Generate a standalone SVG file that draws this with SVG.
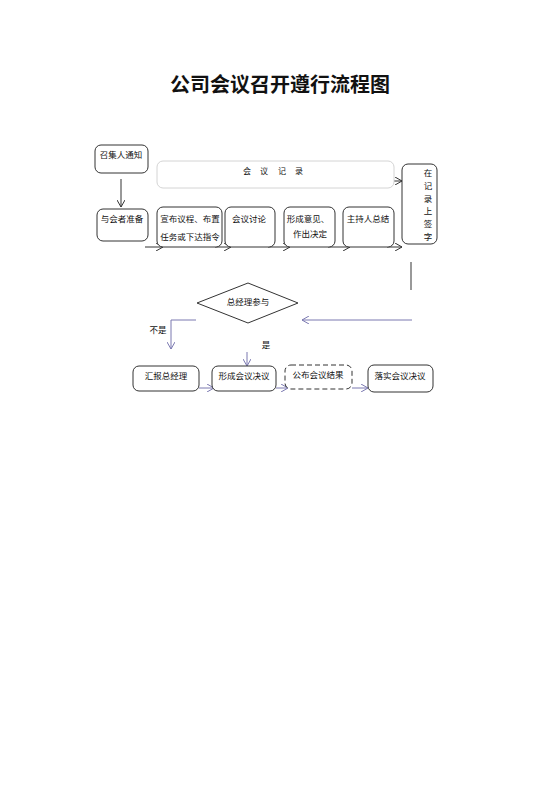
<svg xmlns="http://www.w3.org/2000/svg" width="560" height="792" viewBox="0 0 560 792">
<defs>
<style>
text{font-family:"Liberation Sans","Noto Sans CJK SC",sans-serif;font-size:8.5px;fill:#111;text-anchor:middle;dominant-baseline:central}
.box{fill:#fff;stroke:#333;stroke-width:1}
.ln{fill:none;stroke:#333;stroke-width:1}
.pl{fill:none;stroke:#7a78b0;stroke-width:1}
</style>
<marker id="ak" markerWidth="8" markerHeight="8" refX="7" refY="4" orient="auto" markerUnits="userSpaceOnUse"><path d="M0,0 L7,4 L0,8" fill="none" stroke="#333" stroke-width="1"/></marker>
<marker id="ap" markerWidth="8" markerHeight="8" refX="7" refY="4" orient="auto" markerUnits="userSpaceOnUse"><path d="M0,0 L7,4 L0,8" fill="none" stroke="#7a78b0" stroke-width="1"/></marker>
</defs>
<rect width="560" height="792" fill="#fff"/>
<text x="280" y="85" style="font-size:20px;font-weight:bold">公司会议召开遵行流程图</text>

<g id="connectors">
<line class="ln" x1="121" y1="179" x2="121" y2="207" marker-end="url(#ak)"/>
<line class="ln" x1="386" y1="181" x2="402" y2="181" marker-end="url(#ak)"/>
<line class="ln" x1="145" y1="247" x2="163" y2="247" marker-end="url(#ak)"/>
<line class="ln" x1="215" y1="247" x2="231" y2="247" marker-end="url(#ak)"/>
<line class="ln" x1="268" y1="247" x2="290" y2="247" marker-end="url(#ak)"/>
<line class="ln" x1="328" y1="247" x2="350" y2="247" marker-end="url(#ak)"/>
<line class="ln" x1="387" y1="247" x2="402" y2="247" marker-end="url(#ak)"/>
<line x1="411" y1="262" x2="411" y2="290" stroke="#555" stroke-width="1.2"/>
<line class="pl" x1="412" y1="320" x2="302" y2="320" marker-end="url(#ap)"/>
<polyline class="pl" points="196,320 171,320 171,349" marker-end="url(#ap)"/>
<line class="pl" x1="247" y1="352" x2="247" y2="366" marker-end="url(#ap)"/>
<line class="pl" x1="199" y1="388" x2="214" y2="388" marker-end="url(#ap)"/>
<line class="pl" x1="276" y1="388" x2="288" y2="388" marker-end="url(#ap)"/>
<line class="pl" x1="352" y1="388" x2="368" y2="388" marker-end="url(#ap)"/>
<text x="158" y="330">不是</text>
<text x="266" y="345">是</text>
</g>

<g id="n-zhaoji"><rect class="box" x="95" y="145" width="53" height="28" rx="6"/><text x="121" y="155">召集人通知</text></g>
<g id="n-jilu"><rect x="157" y="161" width="237" height="27" rx="6" fill="#fff" stroke="#d4d4d4"/>
<text x="247" y="171" style="font-size:8px">会</text><text x="264" y="171" style="font-size:8px">议</text><text x="282" y="171" style="font-size:8px">记</text><text x="299" y="171" style="font-size:8px">录</text></g>
<g id="n-yuhui"><rect class="box" x="97" y="209" width="51" height="32" rx="6"/><text x="122" y="219">与会者准备</text></g>
<g id="n-xuanbu"><rect class="box" x="157" y="207" width="65" height="40" rx="6"/><text x="190" y="219">宣布议程、布置</text><text x="190" y="237">任务或下达指令</text></g>
<g id="n-taolun"><rect class="box" x="225" y="207" width="50" height="40" rx="6"/><text x="249" y="219">会议讨论</text></g>
<g id="n-yijian"><rect class="box" x="284" y="207" width="51" height="40" rx="6"/><text x="308" y="219">形成意见、</text><text x="310" y="234">作出决定</text></g>
<g id="n-zongjie"><rect class="box" x="343" y="207" width="51" height="40" rx="6"/><text x="368" y="219">主持人总结</text></g>
<g id="n-qianzi"><rect class="box" x="402" y="164" width="35" height="80" rx="6"/>
<text x="428" y="173">在</text><text x="428" y="186">记</text><text x="428" y="199">录</text><text x="428" y="211">上</text><text x="428" y="224">签</text><text x="428" y="237">字</text></g>
<g id="n-canyu"><polygon points="197,303 248,283 298,303 248,323" fill="#fff" stroke="#333"/><text x="248" y="302">总经理参与</text></g>
<g id="n-huibao"><rect class="box" x="133" y="366" width="66" height="25" rx="6"/><text x="166" y="376">汇报总经理</text></g>
<g id="n-jueyi"><rect class="box" x="212" y="366" width="64" height="25" rx="6"/><text x="244" y="376">形成会议决议</text></g>
<g id="n-gongbu"><rect class="box" x="285" y="365" width="67" height="24" rx="6" stroke-dasharray="5,3"/><text x="318" y="375">公布会议结果</text></g>
<g id="n-luoshi"><rect class="box" x="368" y="365" width="65" height="27" rx="6" stroke-width="1.8" stroke="#111"/><text x="400" y="376">落实会议决议</text></g>
</svg>
